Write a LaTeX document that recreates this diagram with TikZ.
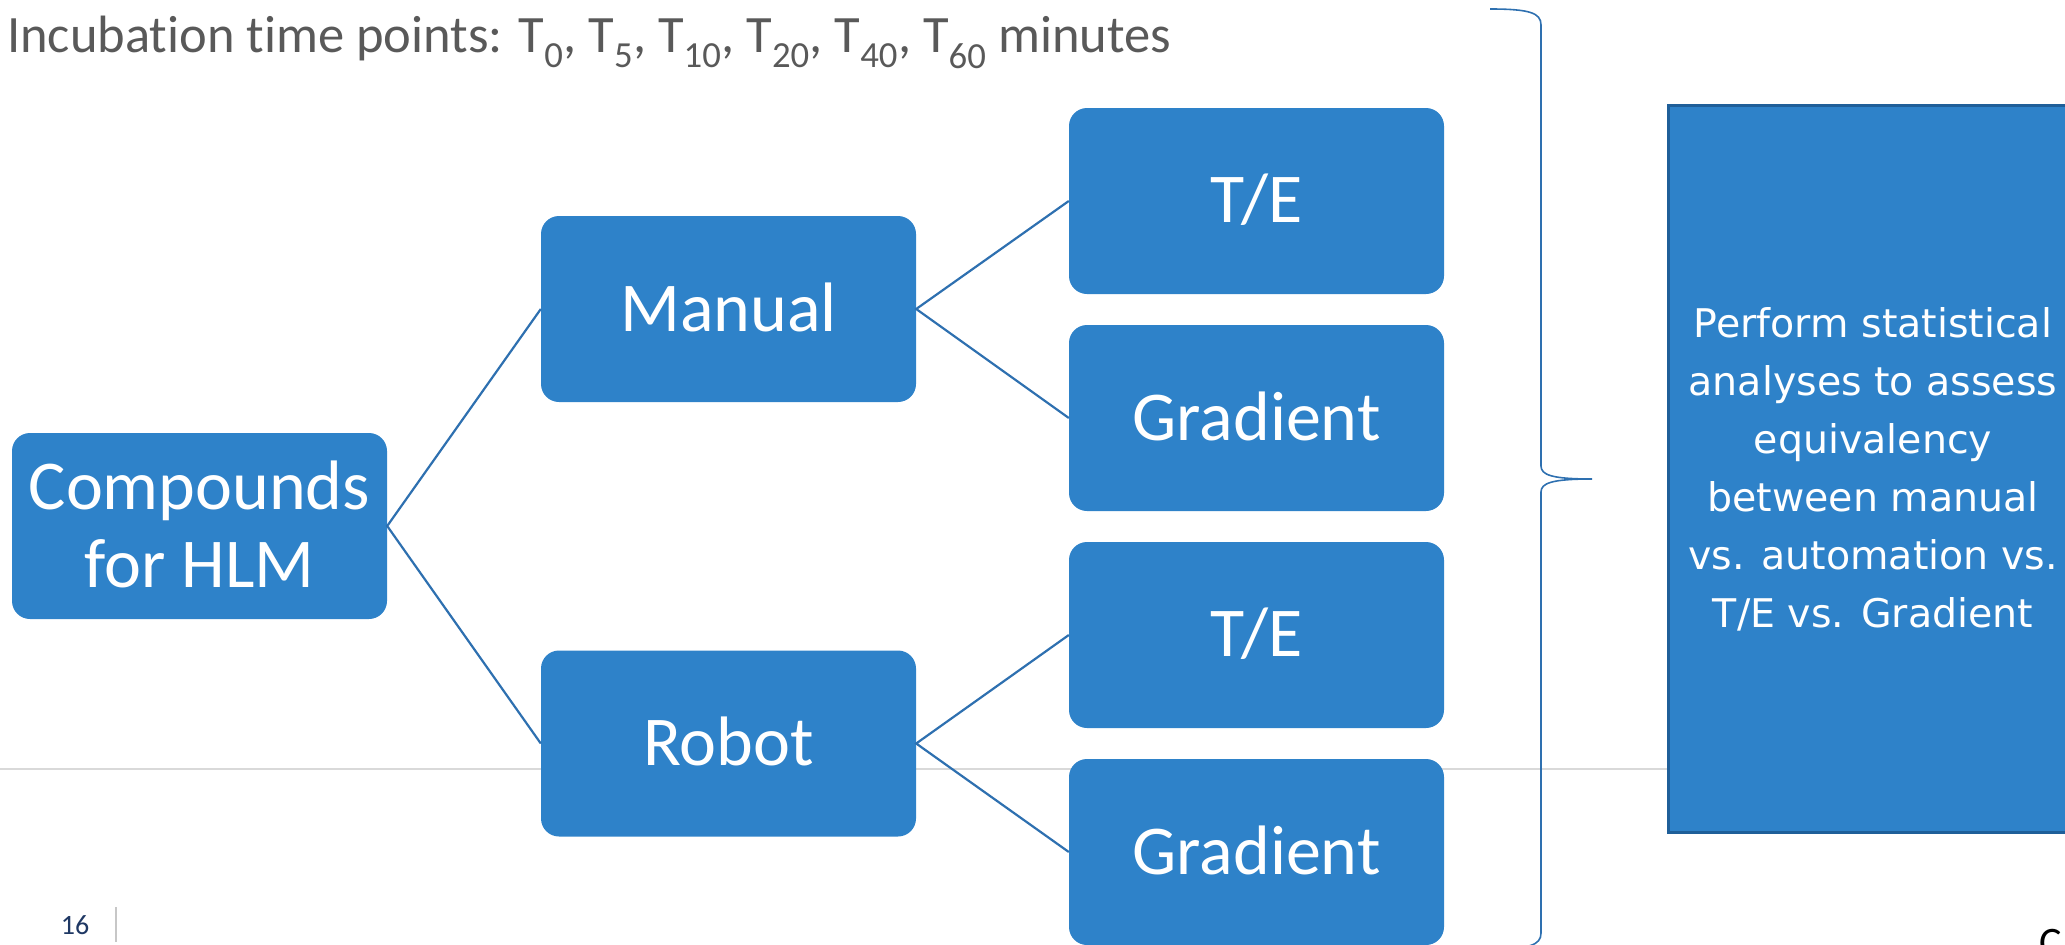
\documentclass[tikz,border=0pt]{standalone}
\usepackage{fontspec}
\setmainfont[Ligatures=NoCommon]{Carlito}
\newfontfamily\vfont{DejaVu Sans}
\definecolor{boxblue}{RGB}{46,130,201}
\definecolor{edgeblue}{RGB}{31,95,153}
\definecolor{linkblue}{RGB}{46,112,176}
\definecolor{titlegray}{RGB}{89,89,89}
\definecolor{rulegray}{RGB}{217,217,217}
\definecolor{navy}{RGB}{31,56,100}
\tikzset{
  stagebox/.style={rectangle, rounded corners=18pt, fill=boxblue, draw=none,
    minimum width=375pt, minimum height=186pt, inner sep=0pt,
    text=white, font=\fontsize{70}{78}\selectfont, text height=45pt},
  link/.style={draw=linkblue, line width=2.2pt},
  bracestyle/.style={draw=linkblue, line width=1.6pt},
}
\begin{document}
\begin{tikzpicture}[x=1pt, y=-1pt]
\useasboundingbox (0,0) rectangle (2065,945);

% slide separator rule
\draw[rulegray, line width=2pt] (0,769) -- (1668,769);

% title
\node[anchor=base west, inner sep=0pt, text=titlegray, font=\fontsize{52.5}{60}\selectfont] (title) at (7,52)
  {Incubation time points: T\textsubscript{0}, T\textsubscript{5}, T\textsubscript{10}, T\textsubscript{20}, T\textsubscript{40}, T\textsubscript{60} minutes};

% tree of boxes
\node[stagebox, align=center, text height=122pt, text depth=0pt] (comp) at (199.5,526) {Compounds\\for HLM};
\node[stagebox] (man) at (728.5,309) {Manual};
\node[stagebox] (rob) at (728.5,743.5) {Robot};
\node[stagebox] (te1) at (1256.5,201) {T/E};
\node[stagebox] (gr1) at (1256.5,418) {Gradient};
\node[stagebox] (te2) at (1256.5,635) {T/E};
\node[stagebox] (gr2) at (1256.5,852) {Gradient};

\draw[link] (man.west) -- (comp.east) -- (rob.west);
\draw[link] (te1.west) -- (man.east) -- (gr1.west);
\draw[link] (te2.west) -- (rob.east) -- (gr2.west);

% curly brace
\draw[bracestyle] (1490,9) .. controls (1530,9) and (1541,13) .. (1541,25)
  -- (1541,466) .. controls (1541,475) and (1552,479) .. (1592,479)
  .. controls (1552,479) and (1541,483) .. (1541,492)
  -- (1541,933) .. controls (1541,945) and (1530,949) .. (1490,949);

% conclusion box
\node[rectangle, fill=boxblue, draw=edgeblue, line width=3pt,
  minimum width=410pt, minimum height=727pt, inner sep=0pt,
  text=white, align=center, font=\vfont\fontsize{39.5}{58}\selectfont] (res) at (1873,469)
  {Perform statistical\\analyses to assess\\equivalency\\between manual\\vs. automation vs.\\T/E vs. Gradient};

% footer
\node[anchor=base, inner sep=0pt, text=navy, font=\fontsize{28}{30}\selectfont] (pnum) at (75,934) {16};
\draw[rulegray!80!gray, line width=1.5pt] (116,907) -- (116,942);
\node[anchor=base west, inner sep=0pt, text=black, font=\fontsize{42}{46}\selectfont] (corner) at (2039,956) {C};
\end{tikzpicture}
\end{document}
